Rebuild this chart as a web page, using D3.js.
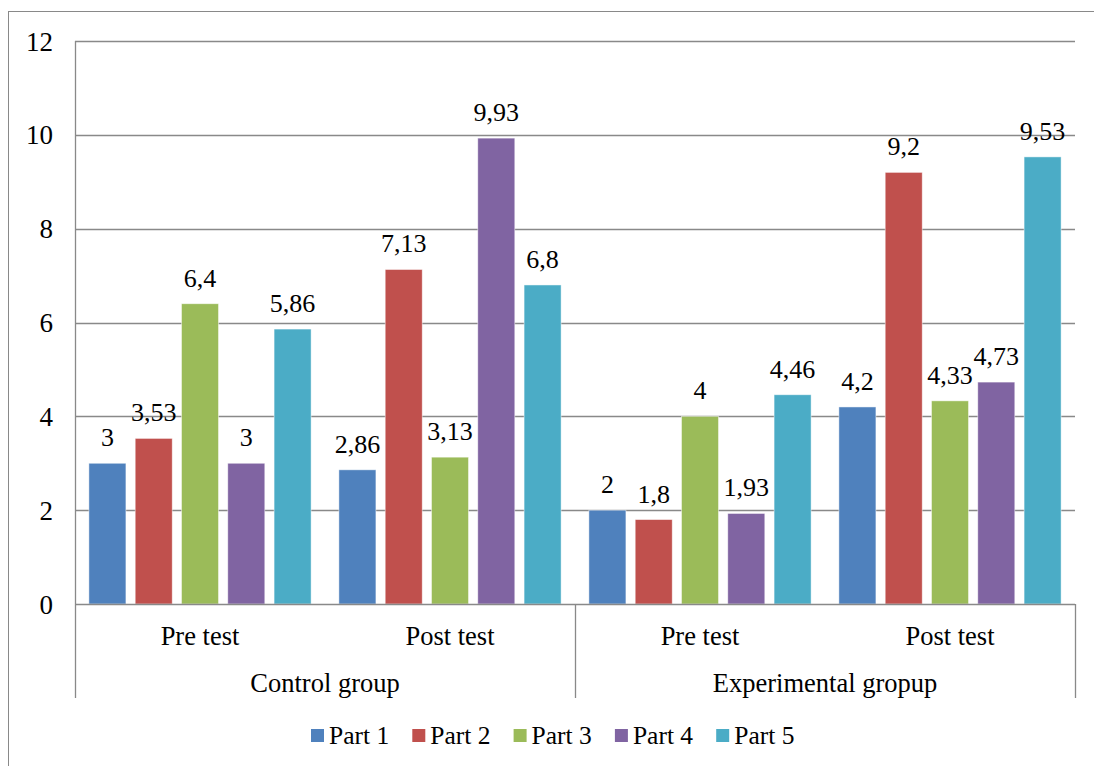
<!DOCTYPE html>
<html>
<head>
<meta charset="utf-8">
<script src="https://cdn.jsdelivr.net/npm/d3@7"></script>
<style>
  html, body { margin: 0; padding: 0; background: #fff; }
  text { font-family: "Liberation Serif", "Times New Roman", Times, serif; }
</style>
</head>
<body>
<svg id="chart" width="1094" height="766"></svg>
<script>
// Groups, test phases and series
const groups = ["Control group", "Experimental gropup"];
const phases = ["Pre test", "Post test"];
const series = ["Part 1", "Part 2", "Part 3", "Part 4", "Part 5"];
const colors = ["#4F81BD", "#C0504D", "#9BBB59", "#8064A2", "#4BACC6"];

// Scores per series, ordered: Control pre, Control post, Experimental pre, Experimental post
const part1 = [3, 2.86, 2, 4.2];
const part2 = [3.53, 7.13, 1.8, 9.2];
const part3 = [6.4, 3.13, 4, 4.33];
const part4 = [3, 9.93, 1.93, 4.73];
const part5 = [5.86, 6.8, 4.46, 9.53];
const yTicks = [0, 2, 4, 6, 8, 10, 12];

const seriesValues = [part1, part2, part3, part4, part5];

const FONT = "'Liberation Serif', 'Times New Roman', Times, serif";
const svg = d3.select("#chart").attr("font-family", FONT);
const gridColor = "#898989";

const plot = { left: 75, right: 1075, top: 41, bottom: 604 };

// Category keys: one per group/phase pair
const cats = [];
groups.forEach(g => phases.forEach(p => cats.push(g + "|" + p)));

const x0 = d3.scaleBand().domain(cats).range([plot.left, plot.right]).padding(0);
const x1 = d3.scaleBand().domain(series).range([0, x0.bandwidth()])
  .paddingInner(0.2).paddingOuter(0.3);
const y = d3.scaleLinear().domain([0, 12]).range([plot.bottom, plot.top]);

const fmt = v => String(v).replace(".", ",");

// Outer chart frame
svg.append("rect")
  .attr("x", 8.5).attr("y", 11.5)
  .attr("width", 1100).attr("height", 770)
  .attr("fill", "none").attr("stroke", gridColor).attr("stroke-width", 1);

// Horizontal gridlines
svg.append("g").selectAll("line")
  .data(yTicks.filter(t => t > 0))
  .join("line")
  .attr("x1", plot.left).attr("x2", plot.right)
  .attr("y1", d => Math.round(y(d)) + 0.5).attr("y2", d => Math.round(y(d)) + 0.5)
  .attr("stroke", gridColor).attr("stroke-width", 1.3);

// Bars
const catG = svg.append("g").selectAll("g")
  .data(cats.map((c, i) => ({ c, i })))
  .join("g")
  .attr("transform", d => `translate(${x0(d.c)},0)`);

catG.selectAll("rect")
  .data(d => series.map((s, k) => ({ s, k, v: seriesValues[k][d.i] })))
  .join("rect")
  .attr("x", d => x1(d.s))
  .attr("width", x1.bandwidth())
  .attr("y", d => y(d.v))
  .attr("height", d => y(0) - y(d.v))
  .attr("fill", d => colors[d.k])
  .attr("stroke", "rgba(255,255,255,0.6)")
  .attr("stroke-width", 0.8);

// Value labels
catG.selectAll("text")
  .data(d => series.map((s, k) => ({ s, k, v: seriesValues[k][d.i] })))
  .join("text")
  .attr("x", d => x1(d.s) + x1.bandwidth() / 2)
  .attr("y", d => y(d.v) - 17)
  .attr("text-anchor", "middle")
  .attr("font-family", FONT)
  .attr("font-size", 26)
  .attr("fill", "#000")
  .text(d => fmt(d.v));

// Value axis line
svg.append("line")
  .attr("x1", plot.left + 0.5).attr("x2", plot.left + 0.5)
  .attr("y1", plot.top).attr("y2", 698)
  .attr("stroke", gridColor).attr("stroke-width", 1.3);

// Category axis baseline
svg.append("line")
  .attr("x1", plot.left).attr("x2", plot.right)
  .attr("y1", Math.round(y(0)) + 0.5).attr("y2", Math.round(y(0)) + 0.5)
  .attr("stroke", gridColor).attr("stroke-width", 1.3);

// Group separators below the axis
const groupScale = d3.scaleBand().domain(groups).range([plot.left, plot.right]);
const seps = [groupScale(groups[1]), plot.right];
svg.append("g").selectAll("line")
  .data(seps)
  .join("line")
  .attr("x1", d => d + 0.5).attr("x2", d => d + 0.5)
  .attr("y1", y(0)).attr("y2", 698)
  .attr("stroke", gridColor).attr("stroke-width", 1.3);

// Y tick labels
svg.append("g").selectAll("text")
  .data(yTicks)
  .join("text")
  .attr("x", 53)
  .attr("y", d => y(d) + 9.5)
  .attr("text-anchor", "end")
  .attr("font-family", FONT)
  .attr("font-size", 27)
  .text(d => d);

// Phase labels
svg.append("g").selectAll("text")
  .data(cats)
  .join("text")
  .attr("x", d => x0(d) + x0.bandwidth() / 2)
  .attr("y", 645)
  .attr("text-anchor", "middle")
  .attr("font-family", FONT)
  .attr("font-size", 26.5)
  .text(d => d.split("|")[1]);

// Group labels
svg.append("g").selectAll("text")
  .data(groups)
  .join("text")
  .attr("x", d => groupScale(d) + groupScale.bandwidth() / 2)
  .attr("y", 692)
  .attr("text-anchor", "middle")
  .attr("font-family", FONT)
  .attr("font-size", 26.5)
  .text(d => d);

// Legend
const legendX = d3.scaleBand().domain(series).range([311, 311 + 101.3 * 5]);
const leg = svg.append("g").selectAll("g")
  .data(series.map((s, k) => ({ s, k })))
  .join("g")
  .attr("transform", d => `translate(${legendX(d.s)},0)`);
leg.append("rect")
  .attr("x", 0).attr("y", 729)
  .attr("width", 13).attr("height", 13)
  .attr("fill", d => colors[d.k]);
leg.append("text")
  .attr("x", 18).attr("y", 744)
  .attr("font-family", FONT)
  .attr("font-size", 25.5)
  .text(d => d.s);
</script>
</body>
</html>
